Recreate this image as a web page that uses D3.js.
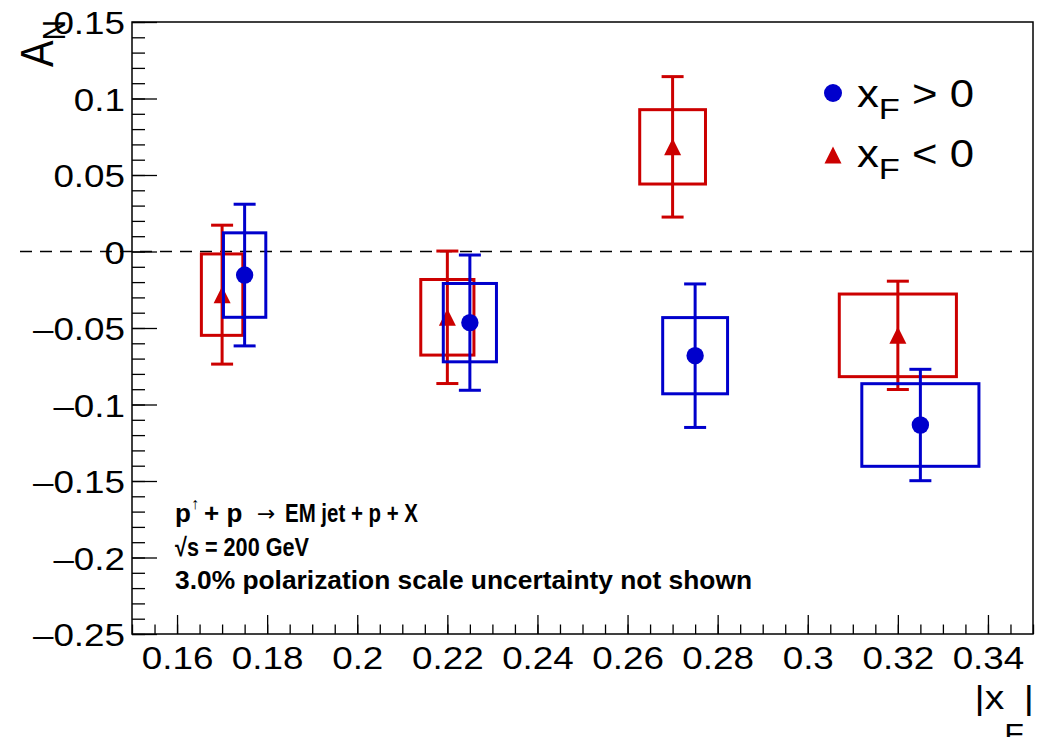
<!DOCTYPE html>
<html>
<head>
<meta charset="utf-8">
<script src="https://cdn.jsdelivr.net/npm/d3@7"></script>
<style>
  body { margin: 0; background: #fff; }
</style>
</head>
<body>
<div id="wrapper"></div>
<script>
// x_F > 0 (blue circles)
const posX = [0.175, 0.225, 0.275, 0.325]
const posAN = [-0.0154, -0.0465, -0.0681, -0.1134]
const posStat = [0.0463, 0.0442, 0.0469, 0.0364]
const posSys = [0.0276, 0.0256, 0.0249, 0.0270]
const posHalfBin = [0.0047, 0.0059, 0.0072, 0.0130]

// x_F < 0 (red triangles)
const negX = [0.170, 0.220, 0.270, 0.320]
const negAN = [-0.0282, -0.0430, 0.0684, -0.0548]
const negStat = [0.0454, 0.0433, 0.0459, 0.0354]
const negSys = [0.0266, 0.0247, 0.0243, 0.0270]
const negHalfBin = [0.0046, 0.0059, 0.0073, 0.0130]

// axis ticks
const xTicks = [0.16, 0.18, 0.20, 0.22, 0.24, 0.26, 0.28, 0.30, 0.32, 0.34]
const xTickLabels = ["0.16", "0.18", "0.2", "0.22", "0.24", "0.26", "0.28", "0.3", "0.32", "0.34"]
const yTicks = [-0.25, -0.2, -0.15, -0.1, -0.05, 0, 0.05, 0.1, 0.15]
const yTickLabels = ["\u20130.25", "\u20130.2", "\u20130.15", "\u20130.1", "\u20130.05", "0", "0.05", "0.1", "0.15"]

const BLUE = "#0000cc"
const RED = "#cc0000"
const FONT = "'Liberation Sans', Arial, Helvetica, sans-serif"
const STRETCH = 1.15

const dimensions = {
    width: 1038,
    height: 737,
    margin: {top: 22, right: 5, bottom: 103, left: 132}
}
dimensions.boundedWidth = dimensions.width - dimensions.margin.left - dimensions.margin.right
dimensions.boundedHeight = dimensions.height - dimensions.margin.top - dimensions.margin.bottom

const series = [
    {name: "neg", color: RED, marker: "triangle", x: negX, a: negAN, stat: negStat, sys: negSys, hw: negHalfBin},
    {name: "pos", color: BLUE, marker: "circle", x: posX, a: posAN, stat: posStat, sys: posSys, hw: posHalfBin}
]

const wrapper = d3.select('#wrapper')
    .append('svg')
    .attr('width', dimensions.width)
    .attr('height', dimensions.height)
    .style('font-family', FONT)

const bounds = wrapper.append('g')
    .attr('transform', `translate(${dimensions.margin.left},${dimensions.margin.top})`)

const xScale = d3.scaleLinear()
    .domain([0.15, 0.35])
    .range([0, dimensions.boundedWidth])

const yScale = d3.scaleLinear()
    .domain([-0.25, 0.15])
    .range([dimensions.boundedHeight, 0])

// minor ticks
const xMinor = d3.range(30, 71).map(i => i / 200)
const yMinor = d3.range(-25, 16).map(i => i / 100)

const styleAxis = g => {
    g.select('.domain').remove()
    g.selectAll('.tick line').attr('stroke', '#000').attr('stroke-width', 1.3)
    g.attr('font-size', null).attr('font-family', null)
}

bounds.append('g')
    .attr('transform', `translate(0,${dimensions.boundedHeight})`)
    .call(d3.axisBottom(xScale).tickValues(xMinor).tickSizeInner(-9.5).tickSizeOuter(0).tickFormat(''))
    .call(styleAxis)

const xAxis = bounds.append('g')
    .attr('transform', `translate(0,${dimensions.boundedHeight})`)
    .call(d3.axisBottom(xScale).tickValues(xTicks).tickSizeInner(-19).tickSizeOuter(0)
        .tickPadding(12).tickFormat((d, i) => xTickLabels[i]))
    .call(styleAxis)
xAxis.selectAll('.tick text')
    .attr('font-size', 32)
    .attr('fill', '#000')
    .attr('transform', `scale(${STRETCH},1)`)

bounds.append('g')
    .call(d3.axisLeft(yScale).tickValues(yMinor).tickSizeInner(-13).tickSizeOuter(0).tickFormat(''))
    .call(styleAxis)

const yAxis = bounds.append('g')
    .call(d3.axisLeft(yScale).tickValues(yTicks).tickSizeInner(-25).tickSizeOuter(0)
        .tickPadding(7).tickFormat((d, i) => yTickLabels[i]))
    .call(styleAxis)
yAxis.selectAll('.tick text')
    .attr('font-size', 32)
    .attr('fill', '#000')
    .attr('x', -7 / STRETCH)
    .attr('dy', '0.36em')
    .attr('transform', `scale(${STRETCH},1)`)

// zero line (runs past the frame to the left, like the original)
bounds.append('line')
    .attr('x1', -112)
    .attr('x2', dimensions.boundedWidth)
    .attr('y1', yScale(0))
    .attr('y2', yScale(0))
    .attr('stroke', '#000')
    .attr('stroke-width', 1.4)
    .attr('stroke-dasharray', '12,8')

// frame
bounds.append('rect')
    .attr('width', dimensions.boundedWidth)
    .attr('height', dimensions.boundedHeight)
    .attr('fill', 'none')
    .attr('stroke', '#000')
    .attr('stroke-width', 1.5)

const triangle = {
    draw(context, size) {
        const s = Math.sqrt(size)
        context.moveTo(0, -s / 2)
        context.lineTo(s / 2, s / 2)
        context.lineTo(-s / 2, s / 2)
        context.closePath()
    }
}

series.forEach(s => {
    const pts = s.x.map((x, i) => ({x, a: s.a[i], stat: s.stat[i], sys: s.sys[i], hw: s.hw[i]}))
    const g = bounds.append('g').attr('class', s.name)

    // systematic boxes
    g.selectAll('rect.sys')
        .data(pts)
        .join('rect')
        .attr('class', 'sys')
        .attr('x', d => xScale(d.x - d.hw))
        .attr('y', d => yScale(d.a + d.sys))
        .attr('width', d => xScale(d.x + d.hw) - xScale(d.x - d.hw))
        .attr('height', d => yScale(d.a - d.sys) - yScale(d.a + d.sys))
        .attr('fill', 'none')
        .attr('stroke', s.color)
        .attr('stroke-width', 3)

    // stat error bars
    g.selectAll('line.bar')
        .data(pts)
        .join('line')
        .attr('class', 'bar')
        .attr('x1', d => xScale(d.x))
        .attr('x2', d => xScale(d.x))
        .attr('y1', d => yScale(d.a + d.stat))
        .attr('y2', d => yScale(d.a - d.stat))
        .attr('stroke', s.color)
        .attr('stroke-width', 3)

    const caps = pts.flatMap(d => [d.a + d.stat, d.a - d.stat].map(v => ({x: d.x, v})))
    g.selectAll('line.cap')
        .data(caps)
        .join('line')
        .attr('class', 'cap')
        .attr('x1', d => xScale(d.x) - 11)
        .attr('x2', d => xScale(d.x) + 11)
        .attr('y1', d => yScale(d.v))
        .attr('y2', d => yScale(d.v))
        .attr('stroke', s.color)
        .attr('stroke-width', 3)

    // markers
    if (s.marker === 'circle') {
        g.selectAll('circle')
            .data(pts)
            .join('circle')
            .attr('cx', d => xScale(d.x))
            .attr('cy', d => yScale(d.a))
            .attr('r', 8.7)
            .attr('fill', s.color)
    } else {
        g.selectAll('path.marker')
            .data(pts)
            .join('path')
            .attr('class', 'marker')
            .attr('transform', d => `translate(${xScale(d.x)},${yScale(d.a)})`)
            .attr('d', d3.symbol().type(triangle).size(17 * 17))
            .attr('fill', s.color)
    }
})

// legend
const legend = wrapper.append('g')
legend.append('circle')
    .attr('cx', 833).attr('cy', 93).attr('r', 9)
    .attr('fill', BLUE)
legend.append('path')
    .attr('transform', 'translate(833,155)')
    .attr('d', d3.symbol().type(triangle).size(17 * 17))
    .attr('fill', RED)

const legendRows = [{y: 107, sign: " > 0"}, {y: 167, sign: " < 0"}]
legendRows.forEach(r => {
    const t = legend.append('text')
        .attr('transform', `translate(857,${r.y}) scale(${STRETCH},1)`)
        .attr('font-size', 38)
        .attr('fill', '#000')
    t.append('tspan').text('x')
    t.append('tspan').attr('font-size', 30).attr('dy', 12).text('F')
    t.append('tspan').attr('dy', -12).text(r.sign)
})

// axis titles
const yTitle = wrapper.append('text')
    .attr('transform', `translate(53,20) scale(${STRETCH},1) rotate(-90)`)
    .attr('text-anchor', 'end')
    .attr('font-size', 40)
    .attr('fill', '#000')
yTitle.append('tspan').text('A')
yTitle.append('tspan').attr('font-size', 28).attr('dy', 10).text('N')

const xTitle = wrapper.append('text')
    .attr('transform', `translate(1034,709) scale(${STRETCH},1)`)
    .attr('text-anchor', 'end')
    .attr('font-size', 34)
    .attr('fill', '#000')
xTitle.append('tspan').text('|x')
xTitle.append('tspan').attr('font-size', 28).attr('dy', 34).text('F')
xTitle.append('tspan').attr('dy', -34).text('|')

// annotation
const note = wrapper.append('g')
    .attr('font-weight', 'bold')
    .attr('font-size', 26)
    .attr('fill', '#000')

note.append('text').attr('x', 175).attr('y', 522).text('p')
note.append('text').attr('x', 191).attr('y', 509).attr('font-size', 16).text('\u2191')
note.append('text').attr('x', 204).attr('y', 522).text('+ p')
note.append('text')
    .attr('x', 257).attr('y', 521)
    .attr('font-family', "'DejaVu Sans', sans-serif")
    .attr('font-weight', 'normal')
    .attr('font-size', 22)
    .text('\u2192')
note.append('text')
    .attr('x', 285).attr('y', 522)
    .attr('textLength', 133).attr('lengthAdjust', 'spacingAndGlyphs')
    .text('EM jet + p + X')

note.append('text')
    .attr('x', 175).attr('y', 556)
    .attr('textLength', 134).attr('lengthAdjust', 'spacingAndGlyphs')
    .text('\u221As = 200 GeV')

note.append('text')
    .attr('x', 175).attr('y', 589)
    .attr('textLength', 577).attr('lengthAdjust', 'spacingAndGlyphs')
    .text('3.0% polarization scale uncertainty not shown')
</script>
</body>
</html>
